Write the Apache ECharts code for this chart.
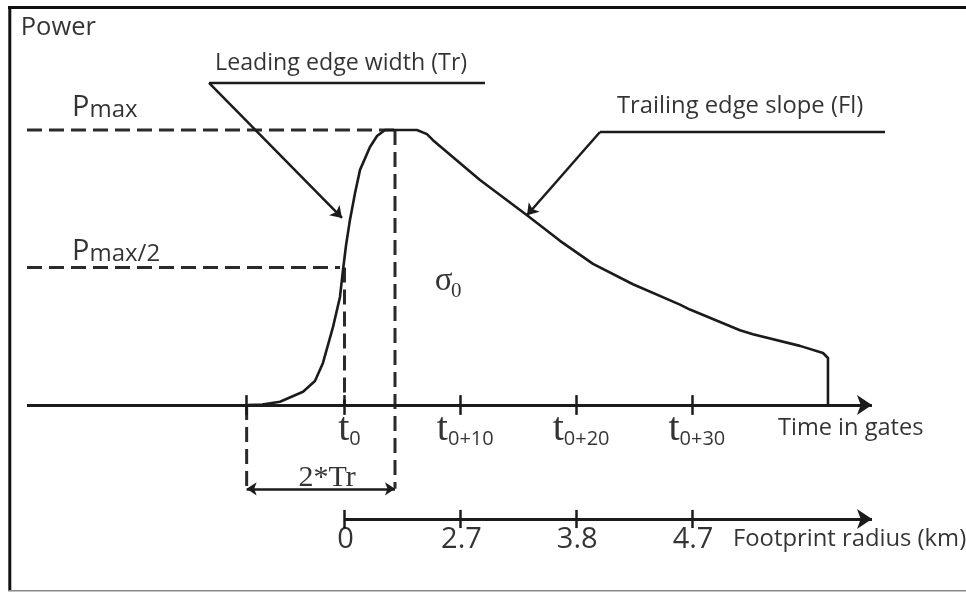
<!DOCTYPE html>
<html>
<head>
<meta charset="utf-8">
<script src="https://cdn.jsdelivr.net/npm/echarts@6/dist/echarts.min.js"></script>
<style>
html,body{margin:0;padding:0;background:#fff;}
#chart{width:966px;height:592px;}
</style>
</head>
<body>
<div id="chart"></div>
<script>
// ---------------- data ----------------
// Waveform: time in gates relative to t0, power normalised to Pmax
const waveGates = [-8.45, -7.1, -5.57, -3.58, -2.55, -1.86, -0.99, -0.39, -0.13, 0.13, 0.47, 0.91, 1.34, 2.2, 2.81, 3.5,
  6.26, 7.12, 7.64, 11.7, 15.76, 18.61, 21.46, 24.91, 28.97, 29.83, 34.15, 35.27, 39.33, 41.32, 41.75, 41.75];
const wavePower = [0, 0.002, 0.012, 0.048, 0.087, 0.153, 0.284, 0.393, 0.491, 0.58, 0.673, 0.771, 0.855, 0.938, 0.978, 1,
  1, 0.985, 0.963, 0.818, 0.69, 0.597, 0.513, 0.439, 0.365, 0.347, 0.272, 0.257, 0.215, 0.189, 0.171, 0];

const timeTickGates = [0, 10, 20, 30];
const timeTickLabels = ['0', '0+10', '0+20', '0+30'];
const footprintLabels = ['0', '2.7', '3.8', '4.7'];

const pMax = 1;
const pHalf = 0.5;
const trStartGate = -8.45;   // start of the 2*Tr window
const trEndGate = 4.36;      // end of the 2*Tr window (peak)
const halfCrossGate = -0.39; // where Pmax/2 meets the leading edge
const trailArrowIndex = 20;  // waveform point the trailing-edge arrow points at

// ---------------- layout (not data) ----------------
const X_MIN = -29.75, X_MAX = 53.67, Y_MIN = -0.68, Y_MAX = 1.4727;
const AXIS_START = -27.42, AXIS_END = 45.55;
const FOOT_Y = -0.4145;
const TR_Y = -0.305;
const TICK_H = 0.036, FOOT_TICK_H = 0.033;

const INK = '#1b1b1b';
const SANS = "'Open Sans', sans-serif";
const SERIF = "'Liberation Serif', serif";
const DASH = [15, 7];

function lineSeries(points, style, z) {
  return {
    type: 'line', data: points, symbol: 'none', showSymbol: false, silent: true,
    lineStyle: Object.assign({ color: INK, width: 2.5 }, style), z: z || 2, animation: false
  };
}
function arrowLine(a, b, startSym, endSym, size, width) {
  return [
    { coord: a, symbol: startSym, symbolSize: size, lineStyle: { color: INK, width: width, type: 'solid' } },
    { coord: b, symbol: endSym, symbolSize: size }
  ];
}
function tickLine(g, y, h) {
  return [
    { coord: [g, y - h], symbol: 'none', lineStyle: { color: INK, width: 2.5, type: 'solid' } },
    { coord: [g, y + h], symbol: 'none' }
  ];
}
function textItem(g, p, formatter, label) {
  return {
    value: [g, p],
    label: Object.assign({ show: true, position: 'inside', formatter: formatter, color: '#000',
      align: 'left', verticalAlign: 'middle' }, label)
  };
}

const waveData = waveGates.map((g, i) => [g, wavePower[i]]);

const markLines = [
  arrowLine([AXIS_START, 0], [AXIS_END, 0], 'none', 'arrow', 15, 3),
  arrowLine([0, FOOT_Y], [AXIS_END, FOOT_Y], 'none', 'arrow', 15, 3),
  arrowLine([trStartGate, TR_Y], [trEndGate, TR_Y], 'arrow', 'arrow', 10, 2.5),
  arrowLine([-11.70, 1.1709], [-0.216, 0.68], 'none', 'arrow', 11, 2.5),
  arrowLine([22.06, 0.9927], [waveGates[trailArrowIndex], wavePower[trailArrowIndex]], 'none', 'arrow', 11, 2.5)
];
[trStartGate].concat(timeTickGates).forEach(g => markLines.push(tickLine(g, 0, TICK_H)));
timeTickGates.forEach(g => markLines.push(tickLine(g, FOOT_Y, FOOT_TICK_H)));

const tickRich = {
  t: { fontFamily: SERIF, fontSize: 40, lineHeight: 40, verticalAlign: 'bottom', color: '#000' },
  s: { fontFamily: SANS, fontSize: 20, lineHeight: 28, verticalAlign: 'bottom', color: '#000' }
};
const pRich = {
  P: { fontFamily: SANS, fontSize: 29, lineHeight: 29, verticalAlign: 'bottom', color: '#000' },
  m: { fontFamily: SANS, fontSize: 24, lineHeight: 24, verticalAlign: 'bottom', color: '#000' }
};

const texts = [
  textItem(-27.96, 1.3709, 'Power', { fontFamily: SANS, fontSize: 25.5 }),
  textItem(-11.18, 1.2436, 'Leading edge width (Tr)', { fontFamily: SANS, fontSize: 23.2 }),
  textItem(23.53, 1.0873, 'Trailing edge slope (Fl)', { fontFamily: SANS, fontSize: 23.8 }),
  textItem(-23.53, 1.082, '{P|P}{m|max}', { rich: pRich }),
  textItem(-23.53, 0.5584, '{P|P}{m|max/2}', { rich: pRich }),
  textItem(7.8, 0.45, 'σ', { fontFamily: SERIF, fontSize: 33 }),
  textItem(9.2, 0.4136, '0', { fontFamily: SERIF, fontSize: 21 }),
  textItem(-1.51, -0.2651, '2*Tr', { fontFamily: SERIF, fontSize: 30, align: 'center' }),
  textItem(37.43, -0.0855, 'Time in gates', { fontFamily: SANS, fontSize: 23.6 }),
  textItem(33.55, -0.4891, 'Footprint radius (km)', { fontFamily: SANS, fontSize: 23.8 })
];
timeTickGates.forEach((g, i) => {
  texts.push(textItem(g + 0.43, -0.0891, '{t|t}{s|' + timeTickLabels[i] + '}', { rich: tickRich, align: 'center' }));
});
timeTickGates.forEach((g, i) => {
  texts.push(textItem(g + 0.1, -0.49, footprintLabels[i], { fontFamily: SANS, fontSize: 29, align: 'center' }));
});

const option = {
  animation: false,
  backgroundColor: '#fff',
  grid: { left: 0, right: 0, top: 0, bottom: 0 },
  xAxis: { type: 'value', min: X_MIN, max: X_MAX, show: false },
  yAxis: { type: 'value', min: Y_MIN, max: Y_MAX, show: false },
  graphic: [
    { type: 'line', shape: { x1: 8, y1: 7.5, x2: 966, y2: 7.5 }, style: { stroke: '#111', lineWidth: 3 }, silent: true },
    { type: 'line', shape: { x1: 9.8, y1: 6, x2: 9.8, y2: 591 }, style: { stroke: '#111', lineWidth: 3 }, silent: true },
    { type: 'line', shape: { x1: 8, y1: 590.8, x2: 966, y2: 590.8 }, style: { stroke: '#888', lineWidth: 1.5 }, silent: true }
  ],
  series: [
    // dashed guides
    lineSeries([[AXIS_START, pMax], [trEndGate, pMax]], { type: DASH, width: 3, color: '#2a2a2a' }),
    lineSeries([[AXIS_START, pHalf], [halfCrossGate, pHalf]], { type: DASH, width: 3, color: '#2a2a2a' }),
    lineSeries([[trEndGate, pMax], [trEndGate, TR_Y]], { type: DASH, width: 3, color: '#2a2a2a' }),
    lineSeries([[trStartGate, 0], [trStartGate, TR_Y]], { type: DASH, width: 3, color: '#2a2a2a' }),
    lineSeries([[0, pHalf], [0, 0]], { type: DASH, width: 3, color: '#2a2a2a' }),
    // leader horizontals
    lineSeries([[-11.70, 1.1709], [12.13, 1.1709]], { width: 2.5 }),
    lineSeries([[22.06, 0.9927], [46.68, 0.9927]], { width: 2.5 }),
    // waveform + arrows, ticks
    Object.assign(lineSeries(waveData, { width: 2.6 }, 3), {
      markLine: { silent: true, animation: false, label: { show: false }, symbol: 'none', data: markLines }
    }),
    {
      type: 'scatter', data: texts, symbolSize: 0.5, itemStyle: { color: 'rgba(0,0,0,0)' },
      silent: true, z: 10, animation: false
    }
  ]
};

const chart = echarts.init(document.getElementById('chart'), null, { renderer: 'canvas' });
chart.setOption(option);
</script>
</body>
</html>
